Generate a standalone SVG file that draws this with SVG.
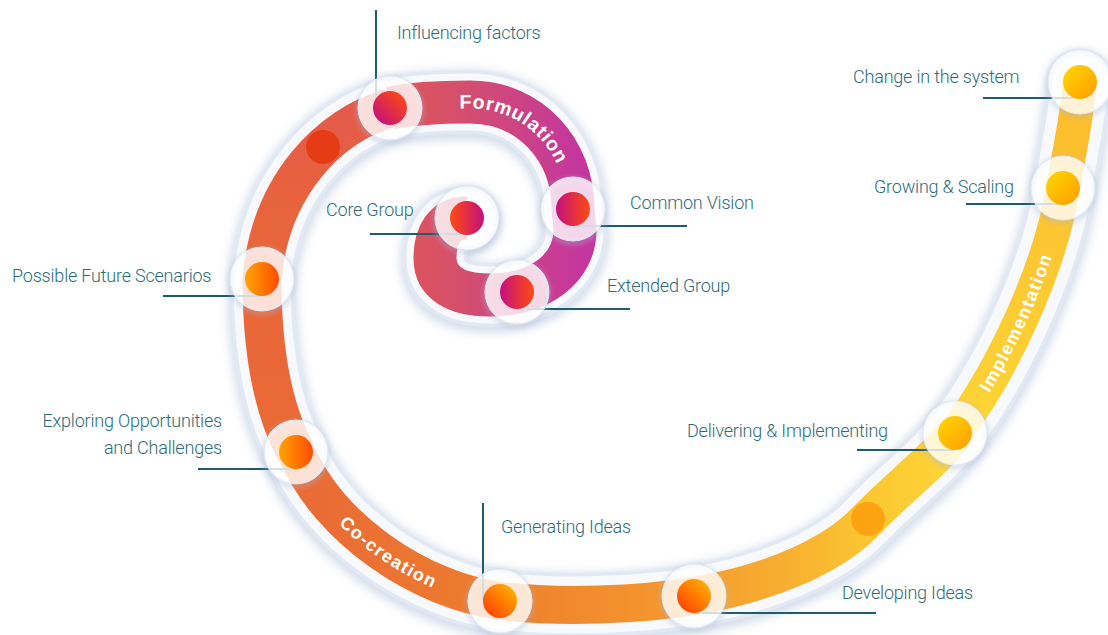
<svg xmlns="http://www.w3.org/2000/svg" xmlns:xlink="http://www.w3.org/1999/xlink" width="1108" height="635" viewBox="0 0 1108 635">
<style>
.lbl{font-family:Roboto,"Liberation Sans",sans-serif;font-weight:300;font-size:18px;fill:#2b6b7a;letter-spacing:-0.2px}
.phase{font-family:"Liberation Sans",Arial,sans-serif;font-weight:bold;font-size:18px;fill:#ffffff;letter-spacing:1.2px}
.lead{stroke:#1d5c6c;stroke-width:2;fill:none}
.halo{fill:#ffffff;fill-opacity:0.8;stroke:#e2e8f1;stroke-width:1}
.hs{fill:none;stroke:#a9b7d2;stroke-width:3;opacity:0.6}
.band{fill:none;stroke-linecap:butt;stroke-linejoin:round}
</style>
<defs>
<filter id="blur5" x="-20%" y="-20%" width="140%" height="140%"><feGaussianBlur stdDeviation="5"/></filter>
<filter id="blur2" x="-30%" y="-30%" width="160%" height="160%"><feGaussianBlur stdDeviation="2.5"/></filter>
<path id="spiral" d="M467,218 C444,218 435,236 435,258 C435,283 456,295 490,295 C540,295 575,268 575,230 L573,209 C573,150 530,102 470,102 C440,102 415,103 390,108 C330,125 270,185 262,279 C262,340 270,405 296,452 C330,530 420,590 500,601 C560,608 640,605 694,596 C760,585 830,560 868,519 C900,486 930,465 955,433 C1000,375 1050,270 1063,188 C1070,150 1077,115 1080,82"/>
<path id="formPath" d="M390,108 C415,103 440,102 470,102 C530,102 573,150 573,209"/>
<path id="coPath" d="M296,452 C330,530 420,590 500,601"/>
<path id="implPath" d="M955,433 C1000,375 1050,270 1063,188"/>
<linearGradient id="gA" gradientUnits="userSpaceOnUse" x1="400" y1="0" x2="580" y2="0">
<stop offset="0" stop-color="#df5458"/><stop offset="0.3" stop-color="#d5506a"/><stop offset="1" stop-color="#c4369e"/></linearGradient>
<linearGradient id="gB" gradientUnits="userSpaceOnUse" x1="0" y1="108" x2="0" y2="452">
<stop offset="0" stop-color="#e45a4a"/><stop offset="0.3" stop-color="#e8643b"/><stop offset="1" stop-color="#ea6a35"/></linearGradient>
<linearGradient id="gC" gradientUnits="userSpaceOnUse" x1="296" y1="0" x2="955" y2="0">
<stop offset="0" stop-color="#e96a36"/><stop offset="0.3" stop-color="#ee7d2e"/><stop offset="0.6" stop-color="#f59b2e"/><stop offset="0.75" stop-color="#f8b030"/><stop offset="0.88" stop-color="#fbc832"/><stop offset="1" stop-color="#fdd535"/></linearGradient>
<linearGradient id="gD" gradientUnits="userSpaceOnUse" x1="0" y1="433" x2="0" y2="82">
<stop offset="0" stop-color="#fdd535"/><stop offset="0.5" stop-color="#fcc733"/><stop offset="1" stop-color="#fbbb2a"/></linearGradient>
<linearGradient id="dMagOr" x1="0" y1="0" x2="1" y2="0"><stop offset="0" stop-color="#c4107e"/><stop offset="1" stop-color="#ff4a12"/></linearGradient>
<linearGradient id="dOrMag" x1="0" y1="0" x2="1" y2="0"><stop offset="0" stop-color="#ff4a12"/><stop offset="1" stop-color="#c4107e"/></linearGradient>
<linearGradient id="dInfl" x1="0" y1="1" x2="1" y2="0"><stop offset="0.1" stop-color="#c4107e"/><stop offset="0.9" stop-color="#ff4a12"/></linearGradient>
<linearGradient id="dOrange" x1="0" y1="0" x2="1" y2="0"><stop offset="0" stop-color="#ffa400"/><stop offset="1" stop-color="#ff4c00"/></linearGradient>
<linearGradient id="dGen" x1="0" y1="1" x2="1" y2="0"><stop offset="0.15" stop-color="#ff4a00"/><stop offset="0.9" stop-color="#ffb000"/></linearGradient>
<linearGradient id="dYel" x1="0" y1="0" x2="1" y2="1"><stop offset="0.1" stop-color="#ffd200"/><stop offset="0.9" stop-color="#ffa200"/></linearGradient>
</defs>
<rect width="1108" height="635" fill="#ffffff"/>

<g id="spiral-band">
<use xlink:href="#spiral" href="#spiral" transform="translate(0,3)" fill="none" stroke="#b4c2dc" stroke-width="70" stroke-linecap="round" opacity="0.55" filter="url(#blur5)"/>
<use xlink:href="#spiral" href="#spiral" fill="none" stroke="#e3e9f3" stroke-width="64" stroke-linecap="round"/>
<use xlink:href="#spiral" href="#spiral" fill="none" stroke="#f7f9fc" stroke-width="57" stroke-linecap="round"/>
<path class="band" stroke="url(#gA)" stroke-width="43" d="M467,218 C444,218 435,236 435,258 C435,283 456,295 490,295 C540,295 575,268 575,230 L573,209 C573,150 530,102 470,102 C440,102 415,103 390,108"/>
<path class="band" stroke="url(#gB)" stroke-width="39" d="M390,108 C330,125 270,185 262,279 C262,340 270,405 296,452"/>
<path class="band" stroke="url(#gC)" stroke-width="38" d="M296,452 C330,530 420,590 500,601 C560,608 640,605 694,596 C760,585 830,560 868,519 C900,486 930,465 955,433"/>
<path class="band" stroke="url(#gD)" stroke-width="34" d="M955,433 C1000,375 1050,270 1063,188 C1070,150 1077,115 1080,82"/>
<circle cx="323" cy="147" r="17" fill="#e5330a" opacity="0.8"/>
<circle cx="868" cy="519" r="17" fill="#fb9c0c" opacity="0.85"/>
<text class="phase" dy="6.5" style="font-size:19.5px;letter-spacing:1.4px"><textPath href="#formPath" xlink:href="#formPath" startOffset="134" text-anchor="middle">Formulation</textPath></text>
<text class="phase" dy="6"><textPath href="#coPath" xlink:href="#coPath" startOffset="53%" text-anchor="middle">Co-creation</textPath></text>
<text class="phase" dy="6"><textPath href="#implPath" xlink:href="#implPath" startOffset="47%" text-anchor="middle">Implementation</textPath></text>
</g>

<g id="connectors">
<path class="lead" d="M376,10 V104"/>
<path class="lead" d="M370,234 H462"/>
<path class="lead" d="M573,226 H687"/>
<path class="lead" d="M517,309 H630"/>
<path class="lead" d="M163,296 H262"/>
<path class="lead" d="M198,469 H296"/>
<path class="lead" d="M483,503 V601"/>
<path class="lead" d="M694,613 H876"/>
<path class="lead" d="M857,450 H955"/>
<path class="lead" d="M966,204 H1063"/>
<path class="lead" d="M983,98 H1080"/>
</g>

<g id="core-group">
<circle class="hs" cx="467" cy="220" r="32" filter="url(#blur2)"/>
<circle class="halo" cx="467" cy="218" r="32"/>
<circle cx="467" cy="218" r="17" fill="url(#dOrMag)"/>
<text class="lbl" x="326" y="216">Core Group</text>
</g>
<g id="extended-group">
<circle class="hs" cx="517" cy="294" r="32" filter="url(#blur2)"/>
<circle class="halo" cx="517" cy="292" r="32"/>
<circle cx="517" cy="292" r="17" fill="url(#dMagOr)"/>
<text class="lbl" x="607" y="292">Extended Group</text>
</g>
<g id="common-vision">
<circle class="hs" cx="573" cy="211" r="32" filter="url(#blur2)"/>
<circle class="halo" cx="573" cy="209" r="32"/>
<circle cx="573" cy="209" r="17" fill="url(#dMagOr)"/>
<text class="lbl" x="630" y="209">Common Vision</text>
</g>
<g id="influencing-factors">
<circle class="hs" cx="390" cy="110" r="32" filter="url(#blur2)"/>
<circle class="halo" cx="390" cy="108" r="32"/>
<circle cx="390" cy="108" r="17" fill="url(#dInfl)"/>
<text class="lbl" x="397" y="39">Influencing factors</text>
</g>
<g id="possible-future-scenarios">
<circle class="hs" cx="262" cy="281" r="32" filter="url(#blur2)"/>
<circle class="halo" cx="262" cy="279" r="32"/>
<circle cx="262" cy="279" r="17" fill="url(#dOrange)"/>
<text class="lbl" x="12" y="282">Possible Future Scenarios</text>
</g>
<g id="exploring">
<circle class="hs" cx="296" cy="454" r="32" filter="url(#blur2)"/>
<circle class="halo" cx="296" cy="452" r="32"/>
<circle cx="296" cy="452" r="17" fill="url(#dOrange)"/>
<text class="lbl" x="222" y="427" text-anchor="end">Exploring Opportunities</text>
<text class="lbl" x="222" y="454" text-anchor="end">and Challenges</text>
</g>
<g id="generating-ideas">
<circle class="hs" cx="500" cy="603" r="32" filter="url(#blur2)"/>
<circle class="halo" cx="500" cy="601" r="32"/>
<circle cx="500" cy="601" r="17" fill="url(#dGen)"/>
<text class="lbl" x="501" y="533">Generating Ideas</text>
</g>
<g id="developing-ideas">
<circle class="hs" cx="694" cy="598" r="32" filter="url(#blur2)"/>
<circle class="halo" cx="694" cy="596" r="32"/>
<circle cx="694" cy="596" r="17" fill="url(#dGen)"/>
<text class="lbl" x="842" y="599">Developing Ideas</text>
</g>
<g id="delivering">
<circle class="hs" cx="955" cy="435" r="32" filter="url(#blur2)"/>
<circle class="halo" cx="955" cy="433" r="32"/>
<circle cx="955" cy="433" r="17" fill="url(#dYel)"/>
<text class="lbl" x="687" y="437">Delivering &amp; Implementing</text>
</g>
<g id="growing-scaling">
<circle class="hs" cx="1063" cy="190" r="32" filter="url(#blur2)"/>
<circle class="halo" cx="1063" cy="188" r="32"/>
<circle cx="1063" cy="188" r="17" fill="url(#dYel)"/>
<text class="lbl" x="874" y="193">Growing &amp; Scaling</text>
</g>
<g id="change-in-system">
<circle class="hs" cx="1080" cy="84" r="32" filter="url(#blur2)"/>
<circle class="halo" cx="1080" cy="82" r="32"/>
<circle cx="1080" cy="82" r="17" fill="url(#dYel)"/>
<text class="lbl" x="853" y="83">Change in the system</text>
</g>
</svg>
